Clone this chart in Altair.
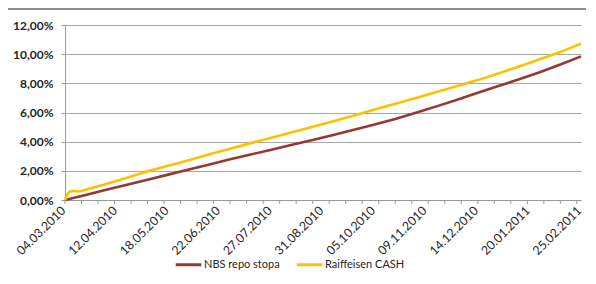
import altair as alt
import pandas as pd

# x = business-day index since 04.03.2010, y = cumulative return in %
nbs_idx = [0, 10, 20, 30, 40, 50, 60, 70, 80, 90, 100, 110, 120, 130, 140, 150,
           160, 170, 180, 190, 200, 210, 220, 230, 240, 250]
nbs_val = [0.00, 0.35, 0.70, 1.04, 1.39, 1.74, 2.09, 2.44, 2.79, 3.12, 3.45, 3.79,
           4.12, 4.46, 4.81, 5.17, 5.56, 5.98, 6.42, 6.88, 7.35, 7.81, 8.28, 8.76,
           9.29, 9.85]
rcash_idx = [0, 1, 2, 4, 6, 8, 10, 20, 30, 40, 50, 60, 70, 80, 90, 100, 110, 120,
             130, 140, 150, 160, 170, 180, 190, 200, 210, 220, 230, 240, 250]
rcash_val = [0.00, 0.35, 0.55, 0.63, 0.58, 0.62, 0.70, 1.10, 1.53, 1.97, 2.35, 2.73,
             3.14, 3.52, 3.90, 4.27, 4.65, 5.02, 5.40, 5.80, 6.20, 6.60, 7.00, 7.40,
             7.82, 8.22, 8.68, 9.15, 9.65, 10.15, 10.72]

series_names = ["NBS repo stopa", "Raiffeisen CASH"]
series_colors = ["#953735", "#FFC000"]

date_labels = ["04.03.2010", "12.04.2010", "18.05.2010", "22.06.2010", "27.07.2010",
               "31.08.2010", "05.10.2010", "09.11.2010", "14.12.2010", "20.01.2011",
               "25.02.2011"]
label_pos = [i * 25 for i in range(len(date_labels))]
tick_pos = list(range(0, 251, 8))
y_ticks = [0, 2, 4, 6, 8, 10, 12]

df = pd.concat([
    pd.DataFrame({"t": nbs_idx, "v": nbs_val, "s": series_names[0]}),
    pd.DataFrame({"t": rcash_idx, "v": rcash_val, "s": series_names[1]}),
])
ticks_df = pd.DataFrame({"t": tick_pos})

W, H = 516, 175
FONT = "Lato"
TXT = "#262626"

arr = "[" + ",".join("'%s'" % d for d in date_labels) + "]"

xscale = alt.Scale(domain=[0, 250], nice=False, zero=False)

lines = alt.Chart(df).mark_line(strokeWidth=2.6, interpolate="linear").encode(
    x=alt.X("t:Q", scale=xscale,
            axis=alt.Axis(values=label_pos, ticks=False, grid=False, title=None,
                          labelExpr=arr + "[round(datum.value/25)]",
                          labelAngle=-45, labelAlign="right", labelBaseline="middle",
                          labelPadding=8, labelOffset=-2, labelFontSize=12.3,
                          labelFont=FONT, labelColor=TXT, domainColor="#9a9a9a",
                          labelOverlap=False, labelFlush=False, labelBound=False)),
    y=alt.Y("v:Q", scale=alt.Scale(domain=[0, 12], nice=False),
            axis=alt.Axis(values=y_ticks, title=None, grid=True, gridColor="#a6a6a6",
                          gridWidth=1, domainColor="#9a9a9a", tickColor="#9a9a9a",
                          tickSize=4, labelPadding=8, labelFontSize=12,
                          labelFontWeight="bold", labelFont=FONT, labelColor=TXT,
                          labelExpr="replace(format(datum.value, '.2f'), '.', ',') + '%'")),
    color=alt.Color("s:N", scale=alt.Scale(domain=series_names, range=series_colors),
                    legend=alt.Legend(title=None, orient="none", direction="horizontal",
                                      legendX=109, legendY=225, symbolType="stroke",
                                      symbolSize=650, symbolStrokeWidth=3,
                                      labelFontSize=11, labelFont=FONT,
                                      labelColor=TXT, columnPadding=10,
                                      labelOffset=1)),
)

xticks = alt.Chart(ticks_df).mark_rule(color="#9a9a9a", strokeWidth=1).encode(
    x=alt.X("t:Q", scale=xscale),
    y=alt.value(H),
    y2=alt.value(H + 4),
)

border = alt.Chart(ticks_df.head(1)).mark_rule(color="#8c8c8c", strokeWidth=2).encode(
    x=alt.value(-57), x2=alt.value(W + 5), y=alt.value(-16)
)

chart = alt.layer(lines, xticks, border).properties(
    width=W, height=H,
    autosize=alt.AutoSizeParams(type="none"),
    padding={"left": 57, "top": 17, "right": 5, "bottom": 74},
).configure_view(stroke=None)

chart.save("out.html", embed_options={"renderer": "svg", "actions": False})
